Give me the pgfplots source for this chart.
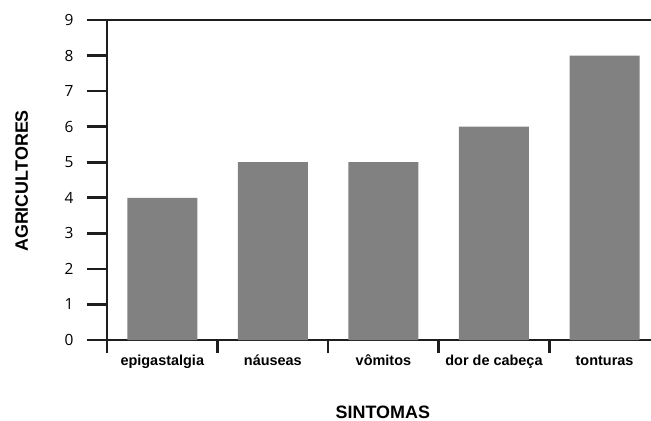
\documentclass[border=0pt]{standalone}
\usepackage{fontspec}
\setmainfont{Liberation Sans}
\newfontfamily\numfont{Open Sans}
\usepackage{pgfplots}
\pgfplotsset{compat=1.18}
\definecolor{bargray}{HTML}{818181}
\definecolor{axblack}{HTML}{1E1E1E}
\begin{document}
\begin{tikzpicture}
\begin{axis}[
  at={(0,0)}, anchor=south west,
  scale only axis, width=544bp, height=320bp,
  xmin=-0.5, xmax=4.42, ymin=0, ymax=9,
  clip=false,
  axis x line*=bottom, axis y line*=left,
  axis line style={line width=2.6bp, color=axblack},
  ytick={0,...,9},
  xtick={0,...,4},
  xticklabels={epigastalgia, náuseas, vômitos, dor de cabeça, tonturas},
  minor xtick={-0.5,0.5,1.5,2.5,3.5},
  tick align=outside,
  major tick length=20bp,
  minor tick length=13bp,
  tick style={line width=2.6bp, color=axblack},
  xtick style={draw=none},
  minor x tick style={draw=axblack, line width=2.6bp},
  /pgf/number format/assume math mode=true,
  yticklabel style={font=\numfont\fontsize{15.5}{15.5}\selectfont, xshift=-10bp},
  xticklabel style={font=\bfseries\fontsize{14.5}{14.5}\selectfont, text height=11bp, text depth=3bp, yshift=9bp},
  xlabel={SINTOMAS},
  ylabel={AGRICULTORES},
  xlabel style={font=\bfseries\fontsize{18}{18}\selectfont, at={(axis description cs:0.507,0)}, anchor=center, yshift=-72bp},
  ylabel style={font=\bfseries\fontsize{18}{18}\selectfont, at={(axis description cs:-0.157,0.497)}, anchor=center},
]
\addplot[ybar, bar width=70bp, fill=bargray, draw=none] coordinates {(0,4) (1,5) (2,5) (3,6) (4,8)};
\draw[line width=2.6bp, color=axblack] (rel axis cs:0,1) -- (rel axis cs:1,1);
\end{axis}
\pgfresetboundingbox
\path[use as bounding box] (-107bp,-81bp) rectangle (544bp,340bp);
\end{tikzpicture}
\end{document}
